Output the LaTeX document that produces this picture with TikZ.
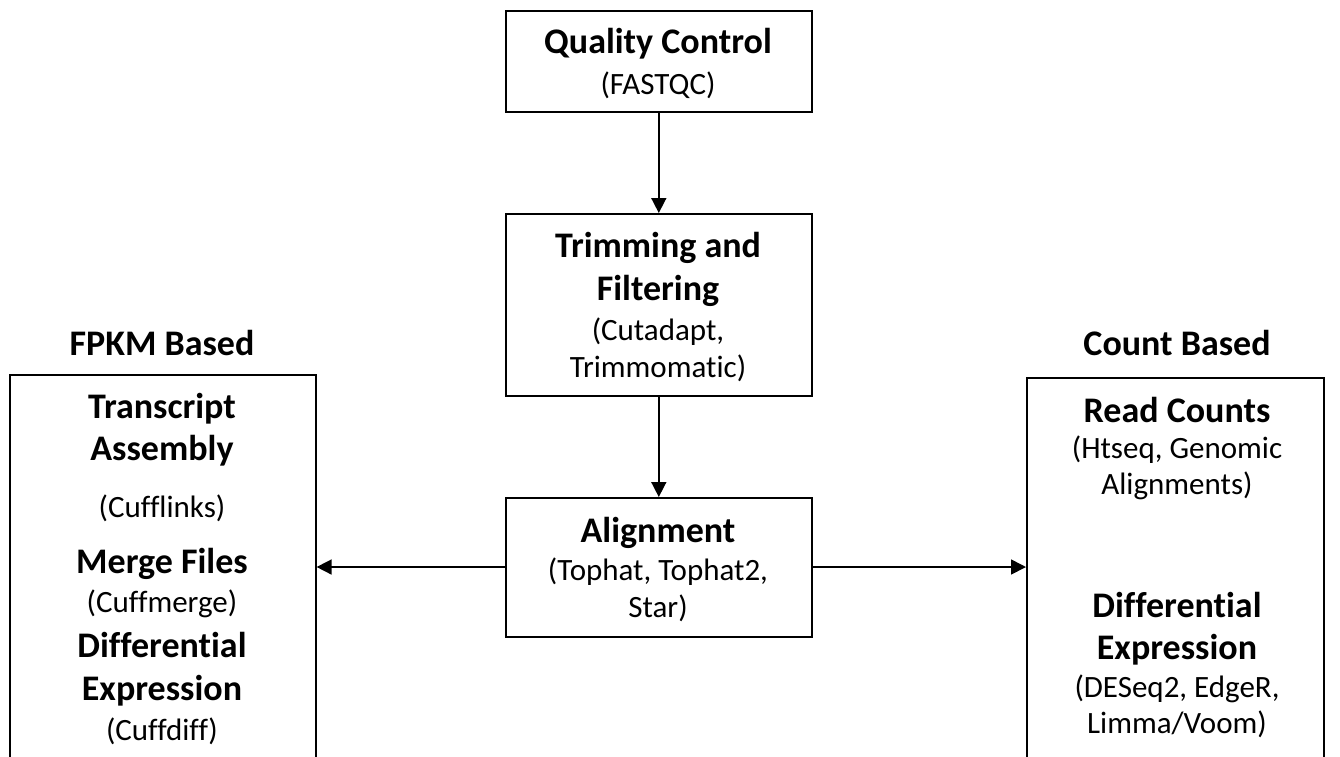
\documentclass[tikz,border=0pt]{standalone}
\usepackage{fontspec}
\setmainfont[Ligatures=NoCommon]{Carlito}
\usetikzlibrary{arrows.meta}
\tikzset{
  box/.style={draw=black, line width=1.6pt, rectangle, inner sep=0pt, anchor=north west},
  conn/.style={line width=1.6pt, -{Triangle[length=15pt,width=15pt]}},
  bt/.style={anchor=base, inner sep=0pt, font=\fontsize{36}{44}\selectfont\bfseries},
  rt/.style={anchor=base, inner sep=0pt, font=\fontsize{31}{37}\selectfont},
}
\begin{document}
\begin{tikzpicture}[x=1pt,y=-1pt]
\clip (0,0) rectangle (1340,756);
\fill[white] (0,0) rectangle (1340,756);
% boxes
\node[box, minimum width=306pt, minimum height=101pt] (qc) at (505,10) {};
\node[box, minimum width=306pt, minimum height=182pt] (trim) at (505,213) {};
\node[box, minimum width=306pt, minimum height=139pt] (align) at (505,497) {};
\node[box, minimum width=306pt, minimum height=420pt] (fpkm) at (9,374) {};
\node[box, minimum width=297pt, minimum height=420pt] (count) at (1026,377) {};
% connectors
\draw[conn] (qc.south) -- (trim.north);
\draw[conn] (trim.south) -- (align.north);
\draw[conn] (align.west |- 0,567) -- (fpkm.east |- 0,567);
\draw[conn] (align.east |- 0,567) -- (count.west |- 0,567);
% QC text
\node[bt] (t1) at (658,53) {Quality Control};
\node[rt] (t2) at (658,94) {(FASTQC)};
% Trimming
\node[bt] (t3) at (658,257) {Trimming and};
\node[bt] (t4) at (658,300) {Filtering};
\node[rt] (t5) at (658,340) {(Cutadapt,};
\node[rt] (t6) at (658,377) {Trimmomatic)};
% Alignment
\node[bt] (t7) at (658,542) {Alignment};
\node[rt] (t8) at (658,580) {(Tophat, Tophat2,};
\node[rt] (t9) at (658,617) {Star)};
% headings
\node[bt] (h1) at (162,355) {FPKM Based};
\node[bt] (h2) at (1177,355) {Count Based};
% left box
\node[bt] (l1) at (162,418) {Transcript};
\node[bt] (l2) at (162,460) {Assembly};
\node[rt] (l3) at (162,517) {(Cufflinks)};
\node[bt] (l4) at (162,573) {Merge Files};
\node[rt] (l5) at (162,612) {(Cuffmerge)};
\node[bt] (l6) at (162,657) {Differential};
\node[bt] (l7) at (162,700) {Expression};
\node[rt] (l8) at (162,740) {(Cuffdiff)};
% right box
\node[bt] (r1) at (1177,422) {Read Counts};
\node[rt] (r2) at (1177,458) {(Htseq, Genomic};
\node[rt] (r3) at (1177,494) {Alignments)};
\node[bt] (r4) at (1177,617) {Differential};
\node[bt] (r5) at (1177,659) {Expression};
\node[rt] (r6) at (1177,697) {(DESeq2, EdgeR,};
\node[rt] (r7) at (1177,733) {Limma/Voom)};
\end{tikzpicture}
\end{document}
